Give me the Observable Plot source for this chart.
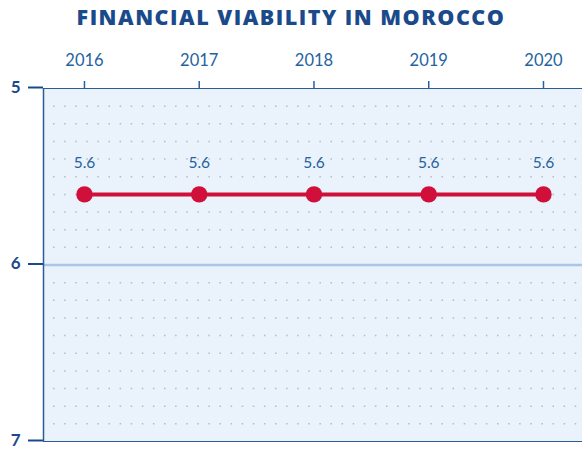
<!DOCTYPE html>
<html>
<head>
<meta charset="utf-8">
<script src="https://cdn.jsdelivr.net/npm/d3@7"></script>
<script src="https://cdn.jsdelivr.net/npm/@observablehq/plot@0.6"></script>
<style>
  html, body { margin: 0; padding: 0; background: #ffffff; overflow: hidden; }
  #title { height: 36px; width: 582px; text-align: center; font-family: "Open Sans", sans-serif; font-weight: 800;
           font-size: 21.5px; line-height: 33px; color: #1b4a8a; letter-spacing: 1.5px; }
</style>
</head>
<body>
<div id="title">FINANCIAL VIABILITY IN MOROCCO</div>
<div id="chart"></div>
<script>
const years = [2016, 2017, 2018, 2019, 2020];
const values = [5.6, 5.6, 5.6, 5.6, 5.6];
const valueLabels = ["5.6", "5.6", "5.6", "5.6", "5.6"];
const yTicks = [5, 6, 7];
const xDomain = [2015.643, 2020.34];
const yDomain = [5, 7];
const dotRows = d3.range(51, 70).map(d => d / 10);

const data = years.map((y, i) => ({year: y, value: values[i], label: valueLabels[i]}));

const blue = "#2a5d94";
const chart = Plot.plot({
  width: 582, height: 413,
  marginLeft: 43, marginRight: 0, marginTop: 52, marginBottom: 8,
  style: {fontFamily: "Lato, sans-serif", background: "transparent", overflow: "visible"},
  x: {domain: xDomain, axis: null},
  y: {domain: yDomain, reverse: true, axis: null},
  marks: [
    Plot.frame({fill: "#eaf2fb", stroke: null}),
    Plot.gridY(dotRows, {stroke: "#9aa6b4", strokeOpacity: 0.7, strokeWidth: 1.5, strokeDasharray: "1.5 9.6", strokeDashoffset: -10}),
    Plot.ruleY([6], {stroke: "#a9c6e8", strokeWidth: 2.5}),
    Plot.ruleY(yDomain, {stroke: blue, strokeWidth: 1.2}),
    Plot.ruleX([xDomain[0]], {stroke: blue, strokeWidth: 1.5}),
    Plot.axisX(years, {anchor: "top", label: null, tickSize: 8, tickPadding: 15, tickFormat: d => String(d), fontSize: 16.5, color: "#2563a0", strokeWidth: 1.5}),
    Plot.axisY(yTicks, {anchor: "left", label: null, tickSize: 15, tickPadding: 8, tickFormat: d => String(d), fontSize: 17, fontWeight: "bold", color: "#1b4a8a", strokeWidth: 2, dy: -1}),
    Plot.line(data, {x: "year", y: "value", stroke: "#d0103a", strokeWidth: 4}),
    Plot.dot(data, {x: "year", y: "value", r: 8.2, fill: "#d0103a", stroke: null}),
    Plot.text(data, {x: "year", y: "value", text: "label", dy: -31, fontSize: 15.5, fill: "#2563a0"})
  ]
});
document.getElementById("chart").appendChild(chart);
</script>
</body>
</html>
